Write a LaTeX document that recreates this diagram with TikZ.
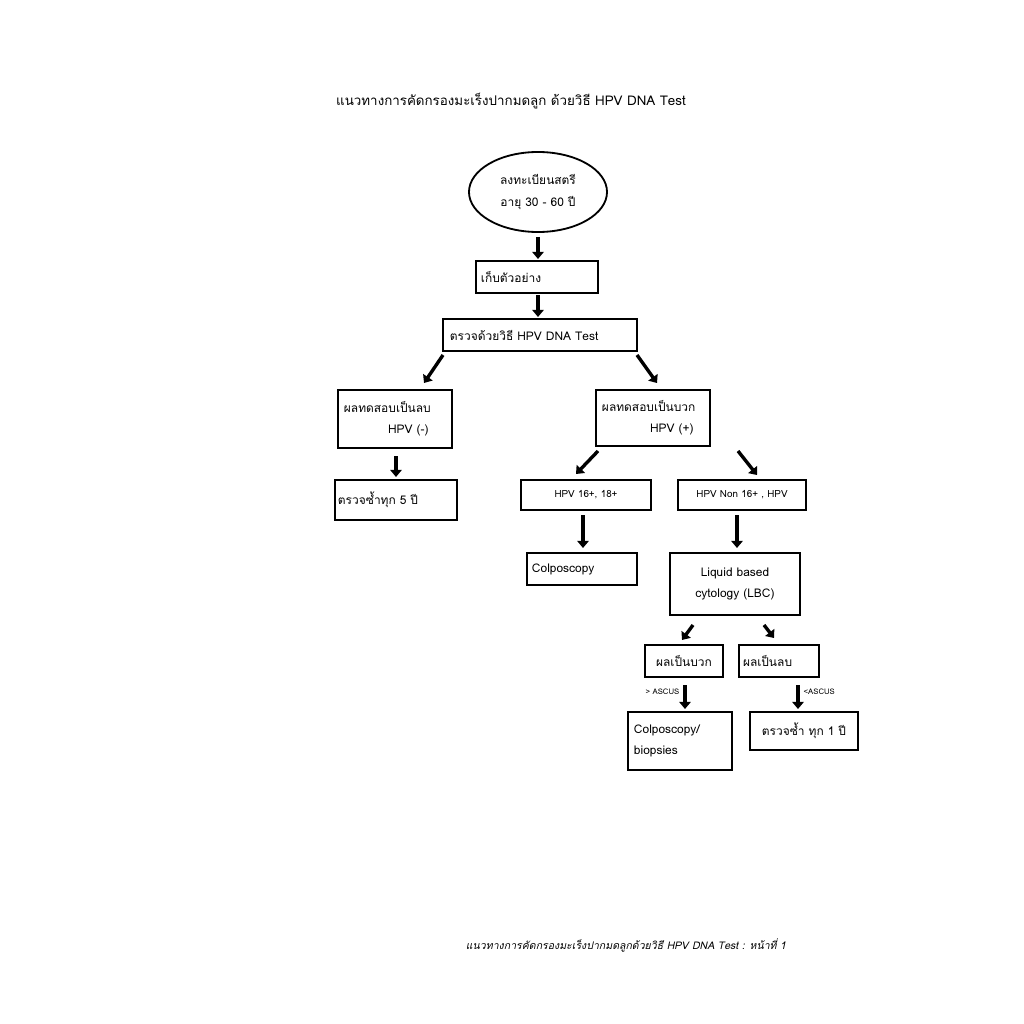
\documentclass[tikz,border=0pt]{standalone}
\usepackage{fontspec}
\setmainfont[Script=Thai]{Loma}
\usetikzlibrary{arrows.meta,shapes.geometric}
\tikzset{
  box/.style={draw, line width=1.3pt, inner sep=0pt, font=\fontsize{8.5}{15}\selectfont},
  arr/.style={line width=2.4pt, -{Triangle[width=8pt,length=5pt]}},
}
\begin{document}
\begin{tikzpicture}[x=0.025cm,y=-0.025cm]
        \useasboundingbox (0,0) rectangle (1024,1024);
        \node[font=\fontsize{9.5}{11}\selectfont] (title) at (511,101) {แนวทางการคัดกรองมะเร็งปากมดลูก ด้วยวิธี HPV DNA Test};
        \node[draw, line width=1.3pt, ellipse, minimum width=3.45cm, minimum height=2cm, inner sep=0pt, align=center, font=\fontsize{8.5}{15}\selectfont] (reg) at (538,192) {ลงทะเบียนสตรี\\อายุ 30 - 60 ปี};
        \node[box, minimum width=3.05cm, minimum height=0.78cm, text width=2.8cm] (collect) at (537,277) {เก็บตัวอย่าง};
        \node[box, minimum width=4.83cm, minimum height=0.78cm, text width=4.5cm] (test) at (540,335) {ตรวจด้วยวิธี HPV DNA Test};
        \node[box, minimum width=2.85cm, minimum height=1.45cm, text width=2.55cm] (neg) at (395,419) {ผลทดสอบเป็นลบ\\\hspace*{1.1cm}HPV (-)};
        \node[box, minimum width=2.83cm, minimum height=1.4cm, text width=2.55cm] (pos) at (653,418) {ผลทดสอบเป็นบวก\\\hspace*{1.2cm}HPV (+)};
        \node[box, minimum width=3.05cm, minimum height=0.98cm, text width=2.9cm] (rep5) at (396,500) {ตรวจซ้ำทุก 5 ปี};
        \node[box, minimum width=3.25cm, minimum height=0.73cm, align=center, font=\fontsize{7}{9}\selectfont] (hi) at (586,495) {HPV 16+, 18+};
        \node[box, minimum width=3.18cm, minimum height=0.73cm, align=center, font=\fontsize{7}{9}\selectfont] (non) at (742,495) {HPV Non 16+ , HPV};
        \node[box, minimum width=2.73cm, minimum height=0.8cm, text width=2.5cm] (colpo) at (582,569) {Colposcopy};
        \node[box, minimum width=3.23cm, minimum height=1.55cm, align=center] (lbc) at (735,584) {Liquid based\\cytology (LBC)};
        \node[box, minimum width=1.95cm, minimum height=0.78cm, align=center] (rpos) at (684,661) {ผลเป็นบวก};
        \node[box, minimum width=2cm, minimum height=0.78cm, text width=1.8cm] (rneg) at (779,661) {ผลเป็นลบ};
        \node[box, minimum width=2.58cm, minimum height=1.43cm, text width=2.3cm] (biop) at (680,741) {Colposcopy/\\biopsies};
        \node[box, minimum width=2.7cm, minimum height=0.93cm, align=center] (rep1) at (804,731) {ตรวจซ้ำ ทุก 1 ปี};
        % arrows
        \draw[arr] (538,237) -- (538,259);
        \draw[arr] (538,295) -- (538,317);
        \draw[arr] (443,355) -- (424,383);
        \draw[arr] (637,355) -- (657,383);
        \draw[arr] (396,456) -- (396,477);
        \draw[arr] (598,451) -- (576,474);
        \draw[arr] (738,451) -- (757,475);
        \draw[arr] (583,515) -- (583,548);
        \draw[arr] (737,515) -- (737,548);
        \draw[arr] (693,625) -- (682,640);
        \draw[arr] (764,625) -- (774,638);
        \draw[arr] (685,685) -- (685,709);
        \draw[arr] (798,685) -- (798,709);
        \node[anchor=east, inner sep=1pt, font=\fontsize{5.5}{6}\selectfont] (gt) at (681,692) {> ASCUS};
        \node[anchor=west, inner sep=1pt, font=\fontsize{5.5}{6}\selectfont] (lt) at (802,692) {<ASCUS};
        \node[font=\itshape\fontsize{7.5}{9}\selectfont] (foot) at (626,945) {แนวทางการคัดกรองมะเร็งปากมดลูกด้วยวิธี HPV DNA Test : หน้าที่ 1};
\end{tikzpicture}
\end{document}
